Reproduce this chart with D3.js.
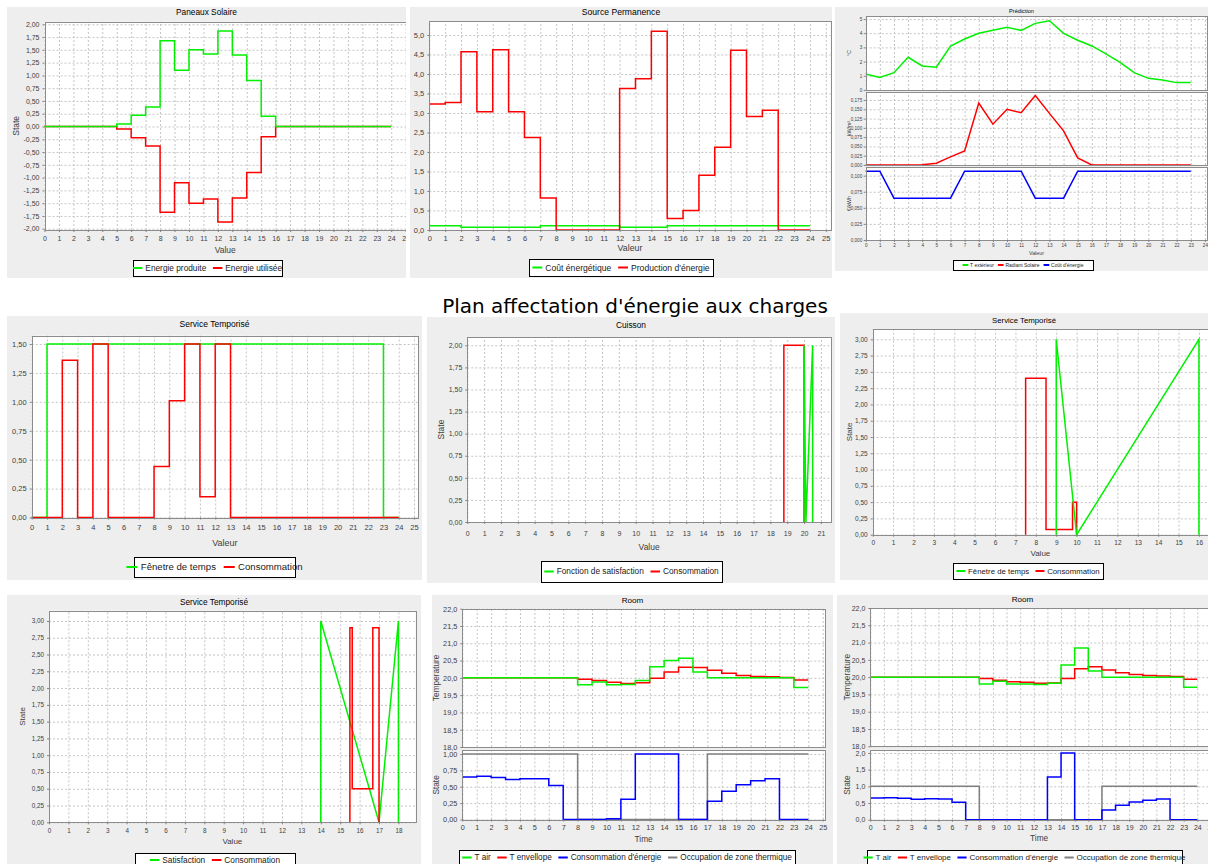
<!DOCTYPE html>
<html><head><meta charset="utf-8">
<script src="https://cdn.jsdelivr.net/npm/d3@7"></script>
<style>body{margin:0;background:#fff}text{font-family:"Liberation Sans",Arial,sans-serif}</style>
</head><body><script>
// ---------- DATA ----------
const mainTitle = "Plan affectation d'énergie aux charges";
const hours = [0,1,2,3,4,5,6,7,8,9,10,11,12,13,14,15,16,17,18,19,20,21,22,23];

// Paneaux Solaire
const panneauxNames = ["Energie produite","Energie utilisée"];
const panneauxProduite = [0,0,0,0,0,0.05,0.22,0.38,1.68,1.10,1.50,1.42,1.87,1.40,0.90,0.20,0,0,0,0,0,0,0,0];
const panneauxUtilisee = [0,0,0,0,0,-0.05,-0.22,-0.38,-1.68,-1.10,-1.50,-1.42,-1.87,-1.40,-0.90,-0.20,0,0,0,0,0,0,0,0];

// Source Permanence
const sourceNames = ["Coût énergétique","Production d'énergie"];
const sourceCout = [0.107,0.107,0.065,0.065,0.065,0.065,0.065,0.107,0.107,0.107,0.107,0.107,0.065,0.065,0.065,0.107,0.107,0.107,0.107,0.107,0.107,0.107,0.107,0.107];
const sourceProduction = [3.23,3.27,4.57,3.03,4.62,3.03,2.37,0.82,0,0,0,0,3.63,3.88,5.10,0.29,0.50,1.40,2.12,4.61,2.91,3.07,0,0];

// Prédiction
const predNames = ["T extérieur","Radiant Solaire","Coût d'énergie"];
const predUnits = ["°C","kW/m²","€/kWh"];
const predText = [1.12,0.89,1.22,2.30,1.69,1.60,3.10,3.59,3.99,4.20,4.41,4.20,4.69,4.88,3.99,3.50,3.10,2.54,1.95,1.22,0.82,0.70,0.52,0.52];
const predRad = [0,0,0,0,0.001,0.005,0.022,0.038,0.167,0.110,0.150,0.141,0.187,0.139,0.092,0.019,0,0,0,0,0,0,0,0];
const predCout = [0.107,0.107,0.065,0.065,0.065,0.065,0.065,0.107,0.107,0.107,0.107,0.107,0.065,0.065,0.065,0.107,0.107,0.107,0.107,0.107,0.107,0.107,0.107,0.107];

// Service Temporisé 1
const serv1Names = ["Fênetre de temps","Consommation"];
const serv1Fenetre = [0,1.5,1.5,1.5,1.5,1.5,1.5,1.5,1.5,1.5,1.5,1.5,1.5,1.5,1.5,1.5,1.5,1.5,1.5,1.5,1.5,1.5,1.5,0];
const serv1Conso = [0,0,1.36,0,1.5,0,0,0,0.44,1.01,1.5,0.18,1.5,0,0,0,0,0,0,0,0,0,0,0];

// Cuisson
const cuissonNames = ["Fonction de satisfaction","Consommation"];
const cuissonSatX = [20.0,20.0,20.11,20.51,20.51];
const cuissonSatY = [0,2,0,2,0];
const cuissonConsoX = [18.8,18.8,20.0,20.0];
const cuissonConsoY = [0,2,2,0];

// Service Temporisé 2
const serv2Names = ["Fênetre de temps","Consommation"];
const serv2FenX = [9,9,10,16,16];
const serv2FenY = [0,3,0,3,0];
const serv2ConsoX = [7.5,7.5,8.5,8.5,9.8,9.8,10.0,10.0];
const serv2ConsoY = [0,2.4,2.4,0.08,0.08,0.5,0.5,0];

// Service Temporisé 3
const serv3Names = ["Satisfaction","Consommation"];
const serv3SatX = [14,14,17,18,18];
const serv3SatY = [0,3,0,3,0];
const serv3ConsoX = [15.5,15.5,15.62,15.62,16.68,16.68,17.0,17.0];
const serv3ConsoY = [0,2.9,2.9,0.5,0.5,2.9,2.9,0];

// Room
const roomNames = ["T air","T envellope","Consommation d'énergie","Occupation de zone thermique"];
const room1Air = [20,20,20,20,20,20,20,20,19.80,19.88,19.80,19.81,19.92,20.32,20.50,20.57,20.17,20,20,20,20,20,20,19.72];
const room1Env = [20,20,20,20,20,20,20,20,19.96,19.92,19.87,19.84,19.86,19.99,20.17,20.31,20.30,20.22,20.13,20.07,20.04,20.03,20.01,19.94];
const room1Conso = [0.65,0.66,0.64,0.61,0.62,0.62,0.52,0,0,0,0.01,0.31,1.0,1.0,1.0,0,0,0.28,0.43,0.53,0.59,0.62,0,0];
const room1Occ = [1,1,1,1,1,1,1,1,0,0,0,0,0,0,0,0,0,1,1,1,1,1,1,1];
const room2Air = [20,20,20,20,20,20,20,20,19.80,19.88,19.80,19.80,19.79,19.82,20.35,20.84,20.18,20,20,20,20,20,20,19.71];
const room2Env = [20,20,20,20,20,20,20,20,19.96,19.91,19.87,19.85,19.82,19.83,19.96,20.24,20.30,20.21,20.13,20.08,20.05,20.03,20.02,19.94];
const room2Conso = [0.65,0.66,0.64,0.61,0.63,0.62,0.52,0,0,0,0,0,0,1.28,2.0,0,0,0.29,0.43,0.53,0.58,0.62,0,0];
const room2Occ = [1,1,1,1,1,1,1,1,0,0,0,0,0,0,0,0,0,1,1,1,1,1,1,1];

// ---------- HELPERS ----------
const GREEN="#00f000", RED="#ff0000", BLUE="#0000ff", GRAY="#808080";
const fr = d3.formatLocale({decimal:",",thousands:" ",grouping:[3],currency:["","€"],minus:"-"});
const f0=fr.format("d"), f1=fr.format(".1f"), f2=fr.format(".2f"), f3=fr.format(".3f");
function stepPts(vals){const p=vals.map((v,i)=>[hours[i],v]);p.push([hours[hours.length-1]+1,vals[vals.length-1]]);return p;}
function linePts(vals){return vals.map((v,i)=>[hours[i],v]);}
function xyPts(xs,ys){return xs.map((x,i)=>[x,ys[i]]);}

const svg=d3.select("body").append("svg").attr("width",1208).attr("height",864);
svg.append("rect").attr("width",1208).attr("height",864).attr("fill","#fff");
svg.append("text").attr("x",635).attr("y",313).attr("text-anchor","middle")
  .style("font-family","'DejaVu Sans'").style("font-size","20px").attr("fill","#000").text(mainTitle);

let clipN=0;
function drawPanel(P){
  const [bx1,by1,bx2,by2]=P.box;
  const id="clip"+(clipN++);
  svg.append("clipPath").attr("id",id).append("rect").attr("x",bx1).attr("y",by1).attr("width",bx2-bx1).attr("height",by2-by1);
  const g=svg.append("g").attr("clip-path",`url(#${id})`);
  g.append("rect").attr("x",bx1).attr("y",by1).attr("width",bx2-bx1).attr("height",by2-by1).attr("fill","#eeeeee");
  g.append("text").attr("x",(bx1+bx2)/2).attr("y",P.titleY).attr("dy","0.35em").attr("text-anchor","middle")
    .style("font-size",P.titleSize+"px").attr("fill","#000").text(P.title);
  P.plots.forEach(pl=>{
    const [l,t,r,b]=pl.rect;
    const x=d3.scaleLinear().domain(pl.xDom).range([l,r]);
    const y=d3.scaleLinear().domain(pl.yDom).range([b,t]);
    const pg=g.append("g");
    pg.append("rect").attr("x",l).attr("y",t).attr("width",r-l).attr("height",b-t).attr("fill","#fff");
    const xt=d3.range(0,Math.floor(pl.xDom[1]+1e-9)+1);
    const yt=d3.range(pl.yt[0],pl.yt[1]+pl.yt[2]/2,pl.yt[2]);
    pg.append("g").attr("transform",`translate(0,${b})`)
      .call(d3.axisBottom(x).tickValues(xt).tickSize(-(b-t)).tickFormat(""))
      .call(s=>{s.select(".domain").remove();s.selectAll("line").attr("stroke","#c4c4c4").attr("stroke-dasharray","2,2");});
    pg.append("g").attr("transform",`translate(${l},0)`)
      .call(d3.axisLeft(y).tickValues(yt).tickSize(-(r-l)).tickFormat(""))
      .call(s=>{s.select(".domain").remove();s.selectAll("line").attr("stroke","#c4c4c4").attr("stroke-dasharray","2,2");});
    pl.series.forEach(s=>{
      pg.append("path").datum(s.pts).attr("fill","none").attr("stroke",s.color).attr("stroke-width",1.5)
        .attr("d",d3.line().x(d=>x(d[0])).y(d=>y(d[1])).curve(s.step?d3.curveStepAfter:d3.curveLinear));
    });
    pg.append("rect").attr("x",Math.round(l)+0.5).attr("y",Math.round(t)+0.5)
      .attr("width",Math.round(r)-Math.round(l)).attr("height",Math.round(b)-Math.round(t))
      .attr("fill","none").attr("stroke","#8c8c8c");
    pg.append("g").attr("transform",`translate(${l},0)`)
      .call(d3.axisLeft(y).tickValues(yt).tickFormat(pl.yFmt).tickSizeInner(2).tickSizeOuter(0).tickPadding(P.tickPad))
      .call(s=>{s.select(".domain").remove();s.selectAll("line").attr("stroke","#808080");
        s.selectAll("text").style("font-size",P.tickSize+"px").style("font-family","'Liberation Sans',Arial,sans-serif").attr("fill","#404040");});
    if(pl.ylabel){
      pg.append("text").attr("transform",`translate(${P.ylabelX},${(t+b)/2}) rotate(-90)`).attr("dy","0.35em")
        .attr("text-anchor","middle").style("font-size",P.labelSize+"px").attr("fill","#404040").text(pl.ylabel);
    }
    if(pl.xAxis){
      pg.append("g").attr("transform",`translate(0,${b})`)
        .call(d3.axisBottom(x).tickValues(xt).tickFormat(f0).tickSizeInner(2).tickSizeOuter(0))
        .call(s=>{s.select(".domain").remove();s.selectAll("line").attr("stroke","#808080");
          s.selectAll("text").attr("y",P.xTickY-b).attr("dy","0.35em").style("font-size",P.tickSize+"px")
           .style("font-family","'Liberation Sans',Arial,sans-serif").attr("fill","#404040");});
      pg.append("text").attr("x",(l+Math.min(r,bx2))/2).attr("y",P.xLabelY).attr("dy","0.35em").attr("text-anchor","middle")
        .style("font-size",P.labelSize+"px").attr("fill","#404040").text(P.xlabel);
    }
  });
  // legend
  const L=P.legend, fs=P.legendSize;
  const [lx1,ly1,lx2,ly2]=L.box;
  g.append("rect").attr("x",lx1+0.5).attr("y",ly1+0.5).attr("width",lx2-lx1).attr("height",ly2-ly1).attr("fill","#fff").attr("stroke","#000");
  const sw=fs*1.15, gap=fs*0.35, itemGap=fs*0.8;
  const its=L.items.map(it=>{
    const gg=g.append("g");
    gg.append("line").attr("x1",0).attr("x2",sw).attr("y1",L.cy).attr("y2",L.cy).attr("stroke",it.color).attr("stroke-width",2);
    const tx=gg.append("text").attr("x",sw+gap).attr("y",L.cy).attr("dy","0.35em").style("font-size",fs+"px").attr("fill","#202020").text(it.label);
    return {gg,w:sw+gap+tx.node().getComputedTextLength()};
  });
  const total=d3.sum(its,d=>d.w)+itemGap*(its.length-1);
  let cx=(lx1+lx2)/2-total/2;
  its.forEach(it=>{it.gg.attr("transform",`translate(${cx},0)`);cx+=it.w+itemGap;});
}

// ---------- PANELS ----------
drawPanel({box:[7,7,406,278],title:"Paneaux Solaire",titleY:12.5,titleSize:8.3,tickSize:7,tickPad:3,labelSize:8.5,legendSize:8.3,
  xlabel:"Value",xTickY:239,xLabelY:250,ylabelX:15.7,
  plots:[{rect:[44.5,21.7,408,230],xDom:[0,25.16],yDom:[-2.025,2.051],yt:[-2,2,0.25],yFmt:f2,xAxis:true,ylabel:"State",
    series:[{pts:stepPts(panneauxUtilisee),color:RED,step:true},{pts:stepPts(panneauxProduite),color:GREEN,step:true}]}],
  legend:{box:[133,260,282,276],cy:268,items:[{label:panneauxNames[0],color:GREEN},{label:panneauxNames[1],color:RED}]}});

drawPanel({box:[410,7,832,278],title:"Source Permanence",titleY:12,titleSize:8.6,tickSize:7.5,tickPad:3,labelSize:8.8,legendSize:8.6,
  xlabel:"Valeur",xTickY:238.3,xLabelY:248.3,
  plots:[{rect:[429.3,21,830.7,229.9],xDom:[0,25.31],yDom:[0,5.36],yt:[0,5,0.5],yFmt:f1,xAxis:true,
    series:[{pts:stepPts(sourceCout),color:GREEN,step:true},{pts:stepPts(sourceProduction),color:RED,step:true}]}],
  legend:{box:[529,259,713,276],cy:267.5,items:[{label:sourceNames[0],color:GREEN},{label:sourceNames[1],color:RED}]}});

drawPanel({box:[835,7,1208,271],title:"Prédiction",titleY:11,titleSize:5.6,tickSize:4.6,tickPad:1.5,labelSize:5.3,legendSize:5,
  xlabel:"Valeur",xTickY:245.7,xLabelY:253.3,ylabelX:849,
  plots:[
    {rect:[865.7,16,1207.3,90],xDom:[0,24.17],yDom:[0,5.21],yt:[0,5,1],yFmt:f0,ylabel:predUnits[0],
      series:[{pts:linePts(predText),color:GREEN}]},
    {rect:[865.7,92,1207.3,165],xDom:[0,24.17],yDom:[0,0.1966],yt:[0,0.175,0.025],yFmt:f3,ylabel:predUnits[1],
      series:[{pts:linePts(predRad),color:RED}]},
    {rect:[865.7,167,1207.3,240],xDom:[0,24.17],yDom:[0,0.1135],yt:[0,0.1,0.025],yFmt:f3,ylabel:predUnits[2],xAxis:true,
      series:[{pts:linePts(predCout),color:BLUE}]}],
  legend:{box:[953,260,1093,270],cy:265,items:[{label:predNames[0],color:GREEN},{label:predNames[1],color:RED},{label:predNames[2],color:BLUE}]}});

drawPanel({box:[7,316,422,580],title:"Service Temporisé",titleY:324.5,titleSize:8.5,tickSize:7.5,tickPad:3,labelSize:9,legendSize:9.6,
  xlabel:"Valeur",xTickY:527.7,xLabelY:542.7,
  plots:[{rect:[31.7,335.7,418,517.5],xDom:[0,25.26],yDom:[0,1.572],yt:[0,1.5,0.25],yFmt:f2,xAxis:true,
    series:[{pts:stepPts(serv1Fenetre),color:GREEN,step:true},{pts:stepPts(serv1Conso),color:RED,step:true}]}],
  legend:{box:[134,557,295,577],cy:567,items:[{label:serv1Names[0],color:GREEN},{label:serv1Names[1],color:RED}]}});

drawPanel({box:[427,317,835,583],title:"Cuisson",titleY:325,titleSize:8.3,tickSize:7,tickPad:3,labelSize:8.5,legendSize:8.3,
  xlabel:"Value",xTickY:533.3,xLabelY:547.3,ylabelX:440.7,
  plots:[{rect:[467.3,337,831,522],xDom:[0,21.6],yDom:[0,2.094],yt:[0,2,0.25],yFmt:f2,xAxis:true,ylabel:"State",
    series:[{pts:xyPts(cuissonConsoX,cuissonConsoY),color:RED},{pts:xyPts(cuissonSatX,cuissonSatY),color:GREEN}]}],
  legend:{box:[541,561,722,582],cy:571.5,items:[{label:cuissonNames[0],color:GREEN},{label:cuissonNames[1],color:RED}]}});

drawPanel({box:[840,313,1208,580],title:"Service Temporisé",titleY:320.7,titleSize:7.8,tickSize:6.5,tickPad:3,labelSize:8,legendSize:7.8,
  xlabel:"Value",xTickY:542.3,xLabelY:553.3,ylabelX:849,
  plots:[{rect:[872.7,329,1212,534.7],xDom:[0,16.64],yDom:[0,3.158],yt:[0,3,0.25],yFmt:f2,xAxis:true,ylabel:"State",
    series:[{pts:xyPts(serv2ConsoX,serv2ConsoY),color:RED},{pts:xyPts(serv2FenX,serv2FenY),color:GREEN}]}],
  legend:{box:[953,563,1103,579],cy:571,items:[{label:serv2Names[0],color:GREEN},{label:serv2Names[1],color:RED}]}});

drawPanel({box:[7,595,421,864],title:"Service Temporisé",titleY:602,titleSize:8.3,tickSize:6.3,tickPad:3,labelSize:8,legendSize:8.3,
  xlabel:"Value",xTickY:830.7,xLabelY:841.3,ylabelX:21.7,
  plots:[{rect:[49,610.7,415.7,822.3],xDom:[0,18.89],yDom:[0,3.153],yt:[0,3,0.25],yFmt:f2,xAxis:true,ylabel:"State",
    series:[{pts:xyPts(serv3SatX,serv3SatY),color:GREEN},{pts:xyPts(serv3ConsoX,serv3ConsoY),color:RED}]}],
  legend:{box:[135,853,295,872],cy:860,items:[{label:serv3Names[0],color:GREEN},{label:serv3Names[1],color:RED}]}});

drawPanel({box:[432,595,833,864],title:"Room",titleY:600.5,titleSize:8.1,tickSize:7.3,tickPad:3,labelSize:8.3,legendSize:8.2,
  xlabel:"Time",xTickY:827.3,xLabelY:838.7,ylabelX:436,
  plots:[
    {rect:[462.3,608.7,825,747],xDom:[0,25.16],yDom:[18,22],yt:[18,22,0.5],yFmt:f1,ylabel:"Temperature",
      series:[{pts:stepPts(room1Env),color:RED,step:true},{pts:stepPts(room1Air),color:GREEN,step:true}]},
    {rect:[462.3,750.3,825,819.5],xDom:[0,25.16],yDom:[0,1.056],yt:[0,1,0.25],yFmt:f2,ylabel:"State",xAxis:true,
      series:[{pts:stepPts(room1Occ),color:GRAY,step:true},{pts:stepPts(room1Conso),color:BLUE,step:true}]}],
  legend:{box:[459,850,795,872],cy:857.5,items:[{label:roomNames[0],color:GREEN},{label:roomNames[1],color:RED},{label:roomNames[2],color:BLUE},{label:roomNames[3],color:GRAY}]}});

drawPanel({box:[837,595,1208,864],title:"Room",titleY:599.5,titleSize:8.1,tickSize:7,tickPad:3,labelSize:8.3,legendSize:8,
  xlabel:"Time",xTickY:828,xLabelY:838.3,ylabelX:846.7,
  plots:[
    {rect:[870.3,608,1212,746.3],xDom:[0,25.08],yDom:[18,22],yt:[18,22,0.5],yFmt:f1,ylabel:"Temperature",
      series:[{pts:stepPts(room2Env),color:RED,step:true},{pts:stepPts(room2Air),color:GREEN,step:true}]},
    {rect:[870.3,750.3,1212,819.7],xDom:[0,25.08],yDom:[0,2.08],yt:[0,2,0.5],yFmt:f1,ylabel:"State",xAxis:true,
      series:[{pts:stepPts(room2Occ),color:GRAY,step:true},{pts:stepPts(room2Conso),color:BLUE,step:true}]}],
  legend:{box:[867,850,1182,872],cy:857.5,items:[{label:roomNames[0],color:GREEN},{label:roomNames[1],color:RED},{label:roomNames[2],color:BLUE},{label:roomNames[3],color:GRAY}]}});
</script></body></html>
